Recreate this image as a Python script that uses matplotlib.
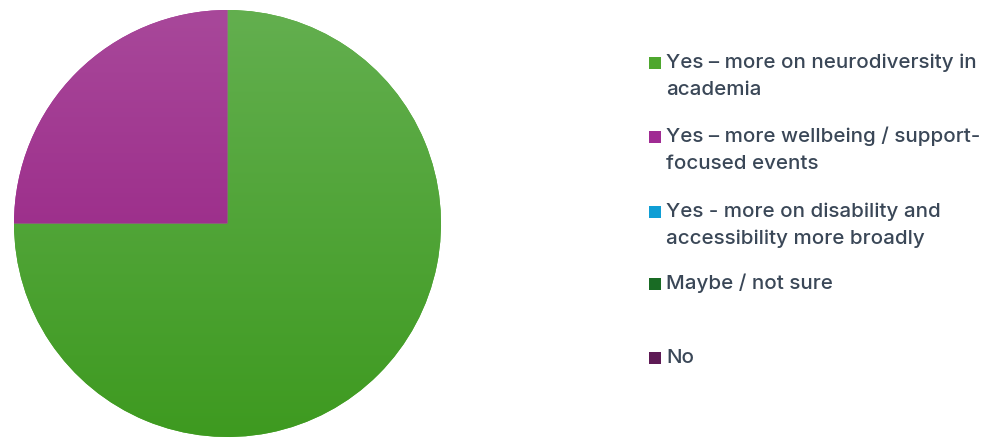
import numpy as np
import matplotlib.pyplot as plt
from matplotlib.colors import LinearSegmentedColormap

W, H = 996, 438

# Data
labels = ['Yes – more on neurodiversity in\nacademia',
          'Yes – more wellbeing / support-\nfocused events',
          'Yes - more on disability and\naccessibility more broadly',
          'Maybe / not sure',
          'No']
values = [75, 25, 0, 0, 0]
colors = ['#4EA72E', '#A02B93', '#0F9ED5', '#196B24', '#5E1A55']
# gradient (top, bottom) for the visible slices
grad = {0: ('#63AF4F', '#3E9A20'), 1: ('#A8489A', '#93187E')}

fig = plt.figure(figsize=(W / 100, H / 100), dpi=100)

# Pie
ax = fig.add_axes([13 / W, 1 / H, 429 / W, 427 / H])
wedges, _ = ax.pie(values, colors=colors, startangle=90, counterclock=False,
                   radius=1.0, wedgeprops=dict(linewidth=0))
for i, (top, bot) in grad.items():
    cmap = LinearSegmentedColormap.from_list('g%d' % i, [bot, top])
    g = np.linspace(0, 1, 256).reshape(-1, 1)
    im = ax.imshow(g, cmap=cmap, extent=(-1, 1, -1, 1), origin='lower',
                   aspect='auto', zorder=2)
    im.set_clip_path(wedges[i])
ax.set_xlim(-1.0, 1.0)
ax.set_ylim(-1.0, 1.0)
ax.set_aspect('equal')
ax.axis('off')

# Legend (manual, pixel coordinates)
lg = fig.add_axes([0, 0, 1, 1])
lg.set_xlim(0, W)
lg.set_ylim(H, 0)
lg.axis('off')
baselines = [68, 142, 217, 289, 363]
text_color = '#3A4757'
for y, lab, c in zip(baselines, labels, colors):
    lg.scatter([654.5], [y - 5.5], marker='s', s=66, color=c, linewidths=0)
    for k, line in enumerate(lab.split('\n')):
        lg.text(666, y + 27 * k, line, color=text_color, fontsize=14.8,
                family='Inter', fontweight='medium', va='baseline', ha='left')

fig.savefig('out.png', dpi=100)
